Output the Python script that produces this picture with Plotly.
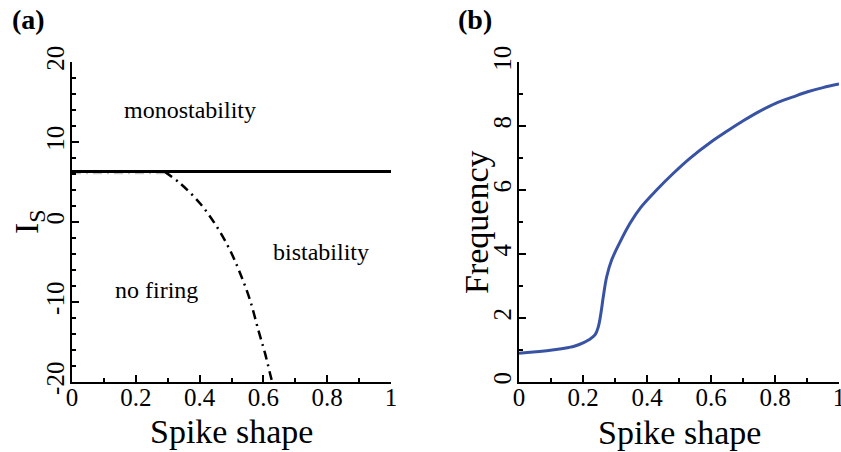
import plotly.graph_objects as go

# Panel (a): phase boundaries
line_x = [0.0, 1.0]
line_y = [6.3, 6.3]
gray_x = [0.0, 0.29]
gray_y = [6.1, 6.1]
dd_x = [0.29, 0.339, 0.401, 0.454, 0.495, 0.527, 0.558, 0.584, 0.605, 0.626, 0.632]
dd_y = [6.3, 4.84, 2.34, -0.58, -3.5, -6.4, -9.75, -13.5, -16.4, -19.75, -20.5]

# Panel (b): frequency vs spike shape
fx = [0.0, 0.104, 0.156, 0.175, 0.202, 0.217, 0.2375, 0.248, 0.256, 0.2635, 0.274, 0.2895,
      0.316, 0.347, 0.38, 0.43, 0.48, 0.534, 0.6, 0.652, 0.702, 0.75, 0.802, 0.854, 0.902,
      0.95, 1.0]
fy = [0.896, 1.0, 1.08, 1.125, 1.23, 1.31, 1.47, 1.73, 2.15, 2.67, 3.29, 3.81,
      4.38, 4.96, 5.45, 6.0, 6.5, 6.99, 7.5, 7.85, 8.17, 8.45, 8.71, 8.9, 9.07,
      9.2, 9.31]

xticks = [0, 0.2, 0.4, 0.6, 0.8, 1]
xticktext = ["0", "0.2", "0.4", "0.6", "0.8", "1"]
ya_ticks = [-20, -10, 0, 10, 20]
ya_ticktext = ["-20", "-10", "0", "10", "20"]
yb_ticks = [0, 2, 4, 6, 8, 10]
yb_ticktext = ["0", "2", "4", "6", "8", "10"]

labels = [("monostability", 0.37, 14.0), ("bistability", 0.78, -3.7), ("no firing", 0.265, -8.5)]

FONT = "Liberation Serif"
W, H = 841, 452

fig = go.Figure()
fig.add_trace(go.Scatter(x=gray_x, y=gray_y, mode="lines",
                         line=dict(color="#c8c8c8", width=2, dash="9px,5px,2px,5px"),
                         xaxis="x", yaxis="y", showlegend=False))
fig.add_trace(go.Scatter(x=line_x, y=line_y, mode="lines",
                         line=dict(color="black", width=3),
                         xaxis="x", yaxis="y", showlegend=False))
fig.add_trace(go.Scatter(x=dd_x, y=dd_y, mode="lines", line_shape="spline",
                         line=dict(color="black", width=2.5, dash="9px,5px,2px,5px"),
                         xaxis="x", yaxis="y", showlegend=False))
fig.add_trace(go.Scatter(x=fx, y=fy, mode="lines", line_shape="spline",
                         line=dict(color="#3953a4", width=3),
                         xaxis="x2", yaxis="y2", showlegend=False))

for t, x, y in labels:
    fig.add_annotation(x=x, y=y, xref="x", yref="y", text=t, showarrow=False,
                       font=dict(family=FONT, size=24, color="black"))

# panel labels
fig.add_annotation(x=10 / W, y=1 - 19 / H, xref="paper", yref="paper", text="<b>(a)</b>",
                   showarrow=False, xanchor="left", yanchor="middle",
                   font=dict(family=FONT, size=28, color="black"))
fig.add_annotation(x=456 / W, y=1 - 19 / H, xref="paper", yref="paper", text="<b>(b)</b>",
                   showarrow=False, xanchor="left", yanchor="middle",
                   font=dict(family=FONT, size=28, color="black"))

# axis titles
TF = dict(family=FONT, size=34, color="black")
fig.add_annotation(x=231.5 / W, y=1 - 431 / H, xref="paper", yref="paper", text="Spike shape",
                   showarrow=False, xanchor="center", yanchor="middle", font=TF)
fig.add_annotation(x=679 / W, y=1 - 432 / H, xref="paper", yref="paper", text="Spike shape",
                   showarrow=False, xanchor="center", yanchor="middle", font=TF)
fig.add_annotation(x=29 / W, y=1 - 222 / H, xref="paper", yref="paper", text="I<sub>S</sub>",
                   showarrow=False, xanchor="center", yanchor="middle", textangle=-90, font=TF)
fig.add_annotation(x=476 / W, y=1 - 222 / H, xref="paper", yref="paper", text="Frequency",
                   showarrow=False, xanchor="center", yanchor="middle", textangle=-90, font=TF)

common = dict(showgrid=False, zeroline=False, showline=True, linecolor="black", linewidth=1.5,
              ticks="inside", ticklen=7, tickwidth=1.5, tickcolor="black", automargin=False,
              ticklabeloverflow="allow",
              tickfont=dict(family=FONT, size=25, color="black"), mirror=False)
mn = dict(ticks="inside", ticklen=4, tickwidth=1.5, tickcolor="black")

ydom = [(H - 382) / H, (H - 62) / H]

fig.update_layout(
    width=W, height=H, margin=dict(l=0, r=0, t=0, b=0),
    paper_bgcolor="white", plot_bgcolor="white",
    xaxis=dict(domain=[72 / W, 391 / W], range=[0, 1], tickvals=xticks, ticktext=xticktext,
               minor=dict(dtick=0.1, **mn), anchor="y", ticklabelstandoff=-8, **common),
    yaxis=dict(domain=ydom, range=[-20, 20], tickvals=ya_ticks, ticktext=ya_ticktext, tickangle=-90,
               minor=dict(dtick=2, **mn), anchor="x", ticklabelstandoff=-4, **common),
    xaxis2=dict(domain=[519 / W, 839 / W], range=[0, 1], tickvals=xticks, ticktext=xticktext,
                minor=dict(dtick=0.1, **mn), anchor="y2", ticklabelstandoff=-8, **common),
    yaxis2=dict(domain=ydom, range=[0, 10], tickvals=yb_ticks, ticktext=yb_ticktext, tickangle=-90,
                minor=dict(dtick=1, **mn), anchor="x2", ticklabelstandoff=-4, **common),
)

fig.write_html("out.html")
